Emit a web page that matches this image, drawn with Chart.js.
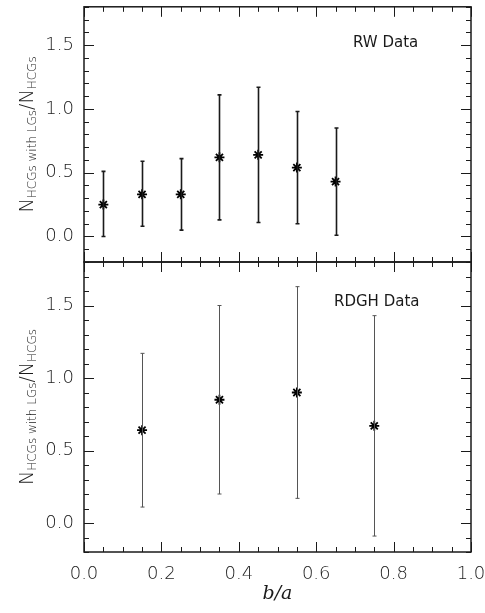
<!DOCTYPE html>
<html>
<head>
<meta charset="utf-8">
<script src="https://cdn.jsdelivr.net/npm/chart.js@4"></script>
<style>
  body { margin: 0; background: #fff; }
  #wrap { position: relative; width: 485px; height: 613px; }
  canvas { position: absolute; left: 0; }
</style>
</head>
<body>
<div id="wrap">
  <canvas id="rwChart" width="485" height="270" style="top:0"></canvas>
  <canvas id="rdghChart" width="485" height="363" style="top:250px"></canvas>
</div>
<script>
// ---- data ----
const rwX   = [0.05, 0.15, 0.25, 0.35, 0.45, 0.55, 0.65];
const rwY   = [0.25, 0.33, 0.33, 0.62, 0.64, 0.54, 0.43];
const rwLo  = [0.00, 0.08, 0.05, 0.13, 0.11, 0.10, 0.01];
const rwHi  = [0.51, 0.59, 0.61, 1.11, 1.17, 0.98, 0.85];

const rdghX  = [0.15, 0.35, 0.55, 0.75];
const rdghY  = [0.64, 0.85, 0.90, 0.67];
const rdghLo = [0.11, 0.20, 0.17, -0.09];
const rdghHi = [1.17, 1.50, 1.63, 1.43];

const xTicks = [0.0, 0.2, 0.4, 0.6, 0.8, 1.0];
const yTicks = [0.0, 0.5, 1.0, 1.5];

const tickFont = { family: 'DejaVu Sans', size: 18, weight: '200' };
const ink = '#1a1a1a';

// error bars, frame, inward ticks, y title, panel label
const decor = {
  id: 'decor',
  afterDatasetsDraw(chart, args, opts) {
    const { ctx, chartArea: a, scales: { x, y } } = chart;
    ctx.save();
    // error bars
    ctx.strokeStyle = opts.barColor;
    ctx.lineWidth = opts.barWidth;
    opts.xs.forEach((xv, i) => {
      const px = Math.round(x.getPixelForValue(xv)) + 0.5;
      const lo = y.getPixelForValue(opts.lo[i]);
      const hi = y.getPixelForValue(opts.hi[i]);
      ctx.beginPath();
      ctx.moveTo(px, lo); ctx.lineTo(px, hi);
      ctx.moveTo(px - 2, lo); ctx.lineTo(px + 2, lo);
      ctx.moveTo(px - 2, hi); ctx.lineTo(px + 2, hi);
      ctx.stroke();
    });
    // frame
    ctx.strokeStyle = ink;
    ctx.lineWidth = 1.5;
    ctx.strokeRect(a.left, a.top, a.right - a.left, a.bottom - a.top);
    // inward ticks on all sides
    ctx.lineWidth = 1;
    ctx.beginPath();
    for (let i = 0; i <= 20; i++) {
      const v = i * 0.05;
      const px = Math.round(x.getPixelForValue(v)) + 0.5;
      const len = (i % 4 === 0) ? 10 : 5;
      ctx.moveTo(px, a.bottom); ctx.lineTo(px, a.bottom - len);
      ctx.moveTo(px, a.top); ctx.lineTo(px, a.top + len);
    }
    for (let i = -2; i <= 18; i++) {
      const v = i / 10;
      const py = Math.round(y.getPixelForValue(v)) + 0.5;
      const len = (i % 5 === 0) ? 10 : 5;
      ctx.moveTo(a.left, py); ctx.lineTo(a.left + len, py);
      ctx.moveTo(a.right, py); ctx.lineTo(a.right - len, py);
    }
    ctx.stroke();
    // panel label
    ctx.fillStyle = ink;
    ctx.font = '15px "DejaVu Sans"';
    ctx.textAlign = 'left';
    ctx.textBaseline = 'middle';
    ctx.fillText(opts.label, opts.labelX, a.top + opts.labelDy);
    // y axis title with subscripts
    const cy = (a.top + a.bottom) / 2;
    ctx.translate(28, cy);
    ctx.rotate(-Math.PI / 2);
    const big = '300 19px "DejaVu Sans"', small = '300 12px "DejaVu Sans"';
    const parts = [['N', big, 0], ['HCGs with LGs', small, 5], ['/', big, 0], ['N', big, 0], ['HCGs', small, 5]];
    let total = 0;
    parts.forEach(p => { ctx.font = p[1]; total += ctx.measureText(p[0]).width; });
    let cx = -total / 2;
    parts.forEach(p => {
      ctx.font = p[1];
      ctx.fillText(p[0], cx, p[2]);
      cx += ctx.measureText(p[0]).width;
    });
    ctx.restore();
  }
};

function yAxis() {
  return {
    min: -0.2, max: 1.8,
    afterBuildTicks: s => { s.ticks = yTicks.map(v => ({ value: v })); },
    afterFit: s => { s.width = 84; s.paddingTop = 0; s.paddingBottom = 0; },
    grid: { display: false, drawTicks: false },
    border: { display: false },
    ticks: { font: tickFont, color: '#222', padding: 10, callback: v => v.toFixed(1) }
  };
}

function starSet(xs, ys) {
  return {
    data: xs.map((v, i) => ({ x: v, y: ys[i] })),
    showLine: false,
    pointStyle: 'star',
    pointRadius: 5,
    pointBorderWidth: 1.8,
    pointBorderColor: '#000',
    pointBackgroundColor: '#000'
  };
}

new Chart(document.getElementById('rwChart'), {
  type: 'scatter',
  data: { datasets: [starSet(rwX, rwY)] },
  options: {
    responsive: false, animation: false,
    layout: { padding: { top: 5, right: 14, bottom: 8, left: 0 } },
    plugins: {
      legend: { display: false }, tooltip: { enabled: false },
      decor: { xs: rwX, lo: rwLo, hi: rwHi, barColor: '#1a1a1a', barWidth: 1.6, label: 'RW Data', labelX: 353, labelDy: 36 }
    },
    scales: {
      x: { type: 'linear', min: 0, max: 1, display: false },
      y: yAxis()
    }
  },
  plugins: [decor]
});

new Chart(document.getElementById('rdghChart'), {
  type: 'scatter',
  data: { datasets: [starSet(rdghX, rdghY)] },
  options: {
    responsive: false, animation: false,
    layout: { padding: { top: 12, right: 14, bottom: 0, left: 0 } },
    plugins: {
      legend: { display: false }, tooltip: { enabled: false },
      decor: { xs: rdghX, lo: rdghLo, hi: rdghHi, barColor: '#555', barWidth: 1, label: 'RDGH Data', labelX: 334, labelDy: 40 }
    },
    scales: {
      x: {
        type: 'linear', min: 0, max: 1,
        afterBuildTicks: s => { s.ticks = xTicks.map(v => ({ value: v })); },
        afterFit: s => { s.height = 61; s.paddingLeft = 0; s.paddingRight = 0; },
        grid: { display: false, drawTicks: false },
        border: { display: false },
        ticks: { font: tickFont, color: '#222', padding: 12, maxRotation: 0, callback: v => v.toFixed(1) },
        title: { display: true, text: 'b/a', font: { family: 'DejaVu Serif', size: 19, style: 'italic' }, color: ink, padding: { top: 0, bottom: 8 } }
      },
      y: yAxis()
    }
  },
  plugins: [decor]
});
</script>
</body>
</html>
